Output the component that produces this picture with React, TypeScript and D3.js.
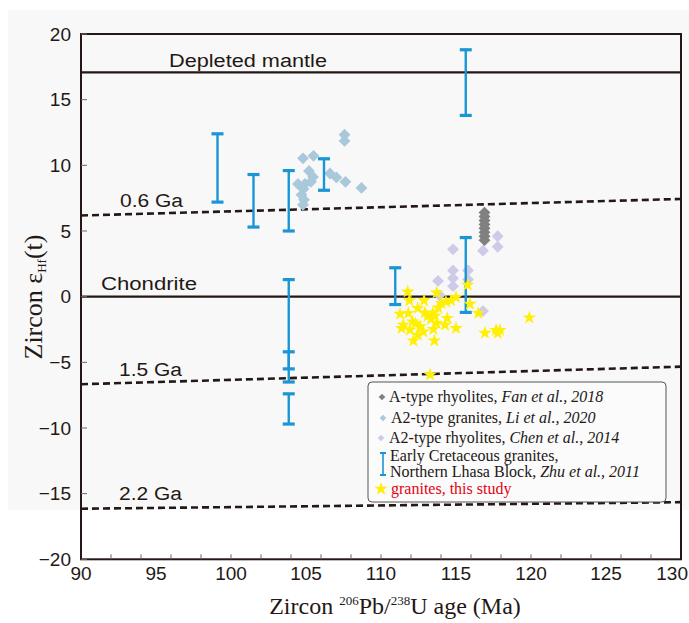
import React from "react";
import * as d3 from "d3";

// ---------- data ----------
const xTicks = [90, 95, 100, 105, 110, 115, 120, 125, 130];
const yTicks = [20, 15, 10, 5, 0, -5, -10, -15, -20];
const xMinorTicks = [92, 94, 96, 98, 100, 102, 104, 106, 108, 110, 112, 114, 116, 118, 120, 122, 124, 126, 128];

const refNames = ["Depleted mantle", "0.6 Ga", "Chondrite", "1.5 Ga", "2.2 Ga"];
const refLeft = [17.08, 6.18, 0, -6.67, -16.15];
const refRight = [17.08, 7.44, 0, -5.33, -15.65];
const refDashed = [false, true, false, true, true];

// Zhu et al., 2011 error bars
const errAges = [99.1, 101.5, 103.85, 103.85, 103.85, 103.85, 106.2, 110.95, 115.65, 115.65];
const errLow = [7.2, 5.3, 5.0, -5.5, -6.5, -9.7, 8.1, -0.6, -1.2, 13.8];
const errHigh = [12.4, 9.3, 9.6, 1.3, -4.2, -7.4, 10.5, 2.2, 4.5, 18.8];

// A2-type granites, Li et al., 2020
const liAges = [107.57, 107.57, 104.8, 105.5, 105.2, 105.47, 105.33, 104.47, 104.93, 104.83, 104.7, 104.87, 104.8, 106.6, 107.03, 107.63, 108.7];
const liEps = [12.33, 11.86, 10.53, 10.72, 9.57, 9.12, 8.74, 8.58, 8.58, 8.2, 7.75, 7.37, 6.99, 9.38, 9.08, 8.74, 8.28];

// A-type rhyolites, Fan et al., 2018
const fanAges = [116.9, 116.9, 116.9, 116.9, 116.9, 116.9, 116.9, 116.9];
const fanEps = [6.4, 6.1, 5.8, 5.5, 5.2, 4.9, 4.6, 4.3];

// A2-type rhyolites, Chen et al., 2014
const chenAges = [117.78, 117.78, 116.8, 114.8, 114.8, 114.8, 114.8, 115.8, 113.8, 113.9, 116.8, 115.8];
const chenEps = [4.6, 3.8, 3.5, 3.6, 2.0, 1.4, 0.8, 2.0, 1.2, 0.1, -1.1, 1.3];

// granites, this study
const starAges = [111.78, 111.89, 112.87, 113.71, 114.33, 114.67, 115.0, 115.78, 115.93, 116.49,
  111.27, 111.82, 112.45, 112.93, 113.45, 113.82, 114.04, 113.33, 114.42, 113.71,
  112.11, 111.49, 111.38, 111.93, 112.6, 112.82, 113.49, 114.27, 115.0, 112.45,
  112.16, 113.56, 116.93, 117.67, 117.93, 117.78, 119.89, 113.1, 113.6, 112.3, 113.27];
const starEps = [0.38, -0.3, -0.3, 0.3, -0.38, -0.3, -0.05, 0.89, -0.56, -1.26,
  -1.32, -1.26, -0.88, -1.22, -1.26, -0.84, -0.5, -1.72, -1.64, -2.03,
  -1.9, -2.16, -2.41, -2.54, -2.28, -2.67, -2.48, -2.16, -2.41, -2.92,
  -3.35, -3.35, -2.77, -2.56, -2.56, -2.79, -1.6, -1.5, -1.45, -2.05, -5.95];

// ---------- styles ----------
const W = 689, H = 623;
const INK = "#231815";
const BLUE = "#1a96d4";
const C_LI = "#a9c8da";
const C_FAN = "#808080";
const C_CHEN = "#cdcbe7";
const C_STAR = "#fff000";
const SANS = "'Liberation Sans', Arial, Helvetica, sans-serif";
const SERIF = "'Liberation Serif', 'Times New Roman', serif";

export default function App() {
  const x = d3.scaleLinear().domain([90, 130]).range([81, 681]);
  const y = d3.scaleLinear().domain([-20, 20]).range([559.3, 34]);

  const diamond = d3.symbol().type(d3.symbolSquare).size(70)() as string;
  const diamondSmall = d3.symbol().type(d3.symbolSquare).size(22)() as string;
  const star = d3.symbol().type(d3.symbolStar).size(58)() as string;
  const starLegend = d3.symbol().type(d3.symbolStar).size(56)() as string;

  const capW = 12;

  const labelPos = [
    { x: 169, y: 67, len: 158 },
    { x: 120, y: 207, len: 63 },
    { x: 101, y: 290, len: 96 },
    { x: 119, y: 376, len: 63 },
    { x: 119, y: 500, len: 63 },
  ];

  return (
    <svg width={W} height={H} style={{ position: "absolute", left: 0, top: 0, background: "#fff" }}
      xmlns="http://www.w3.org/2000/svg">
      <rect x={8} y={10} width={681} height={500} fill="#f8f8f8" />

      {/* reference lines */}
      {refNames.map((n, i) => (
        <line key={"r" + i} x1={x(90)} x2={x(130)} y1={y(refLeft[i])} y2={y(refRight[i])}
          stroke={INK} strokeWidth={refDashed[i] ? 2.6 : 2.2}
          strokeDasharray={refDashed[i] ? "7 4" : undefined} />
      ))}
      {refNames.map((n, i) => (
        <text key={"rl" + i} x={labelPos[i].x} y={labelPos[i].y} fontFamily={SANS} fontSize={18}
          fill={INK} textLength={labelPos[i].len} lengthAdjust="spacingAndGlyphs">{n}</text>
      ))}

      {/* Li et al. diamonds */}
      {liAges.map((a, i) => (
        <path key={"li" + i} d={diamond} transform={`translate(${x(a)},${y(liEps[i])}) rotate(45)`} fill={C_LI} />
      ))}
      {/* Chen et al. diamonds */}
      {chenAges.map((a, i) => (
        <path key={"ch" + i} d={diamond} transform={`translate(${x(a)},${y(chenEps[i])}) rotate(45)`} fill={C_CHEN} />
      ))}
      {/* Fan et al. diamonds */}
      {fanAges.map((a, i) => (
        <path key={"fa" + i} d={diamond} transform={`translate(${x(a)},${y(fanEps[i])}) rotate(45)`} fill={C_FAN} />
      ))}

      {/* error bars */}
      {errAges.map((a, i) => {
        const cx = x(a);
        return (
          <g key={"e" + i} stroke={BLUE}>
            <line x1={cx} x2={cx} y1={y(errLow[i])} y2={y(errHigh[i])} strokeWidth={2.4} />
            <line x1={cx - capW / 2} x2={cx + capW / 2} y1={y(errLow[i])} y2={y(errLow[i])} strokeWidth={3.2} />
            <line x1={cx - capW / 2} x2={cx + capW / 2} y1={y(errHigh[i])} y2={y(errHigh[i])} strokeWidth={3.2} />
          </g>
        );
      })}

      {/* stars */}
      {starAges.map((a, i) => (
        <path key={"s" + i} d={star} transform={`translate(${x(a)},${y(starEps[i])})`} fill={C_STAR} />
      ))}

      {/* frame */}
      <rect x={x(90)} y={y(20)} width={x(130) - x(90)} height={y(-20) - y(20)} fill="none" stroke={INK} strokeWidth={2} />

      {/* ticks */}
      {xMinorTicks.map((t) => (
        <line key={"xt" + t} x1={x(t)} x2={x(t)} y1={y(-20)} y2={y(-20) - 5} stroke="#6a6a6a" strokeWidth={1} />
      ))}
      {yTicks.map((t) => (
        <line key={"yt" + t} x1={x(90)} x2={x(90) + 6} y1={y(t)} y2={y(t)} stroke="#6a6a6a" strokeWidth={1} />
      ))}
      {xTicks.map((t, i) => (
        <text key={"xl" + t} x={i === xTicks.length - 1 ? 688 : x(t)} y={580}
          textAnchor={i === xTicks.length - 1 ? "end" : "middle"} fontFamily={SANS} fontSize={19} fill={INK}>{t}</text>
      ))}
      {yTicks.map((t) => (
        <text key={"yl" + t} x={71} y={y(t)} dy="0.35em" textAnchor="end" fontFamily={SANS} fontSize={19} fill={INK}>
          {t < 0 ? "\u2212" + Math.abs(t) : t}
        </text>
      ))}

      {/* axis titles */}
      <text x={395} y={614} textAnchor="middle" fontFamily={SERIF} fontSize={24} fill={INK}>
        Zircon <tspan fontSize={13} dy={-9}>206</tspan><tspan dy={9}>Pb/</tspan>
        <tspan fontSize={13} dy={-9}>238</tspan><tspan dy={9}>U age (Ma)</tspan>
      </text>
      <text transform="translate(42,297) rotate(-90)" textAnchor="middle" fontFamily={SERIF} fontSize={26} fill={INK}>
        Zircon ε<tspan fontSize={13} dy={4}>Hf</tspan><tspan dy={-4}>(t)</tspan>
      </text>

      {/* legend */}
      <rect x={368} y={382} width={298} height={120} rx={4} fill="#fbfbfb" stroke="#555" strokeWidth={1} />
      <path d={diamondSmall} transform="translate(382,397) rotate(45)" fill={C_FAN} />
      <text x={389} y={402} fontFamily={SERIF} fontSize={16} fill={INK}>A-type rhyolites, <tspan fontStyle="italic">Fan et al., 2018</tspan></text>
      <path d={diamondSmall} transform="translate(383,418) rotate(45)" fill={C_LI} />
      <text x={391} y={423} fontFamily={SERIF} fontSize={16} fill={INK}>A2-type granites, <tspan fontStyle="italic">Li et al., 2020</tspan></text>
      <path d={diamondSmall} transform="translate(381,438) rotate(45)" fill={C_CHEN} />
      <text x={389} y={443} fontFamily={SERIF} fontSize={16} fill={INK}>A2-type rhyolites, <tspan fontStyle="italic">Chen et al., 2014</tspan></text>
      <g stroke={BLUE}>
        <line x1={383} x2={383} y1={453} y2={475} strokeWidth={1.6} />
        <line x1={380} x2={386} y1={453} y2={453} strokeWidth={2} />
        <line x1={380} x2={386} y1={475} y2={475} strokeWidth={2} />
      </g>
      <text x={390} y={461} fontFamily={SERIF} fontSize={16} fill={INK}>Early Cretaceous granites,</text>
      <text x={390} y={477} fontFamily={SERIF} fontSize={16} fill={INK}>Northern Lhasa Block, <tspan fontStyle="italic">Zhu et al., 2011</tspan></text>
      <path d={starLegend} transform="translate(381,489)" fill={C_STAR} />
      <text x={391} y={494} fontFamily={SERIF} fontSize={16} fill="#e60012">granites, this study</text>
    </svg>
  );
}
